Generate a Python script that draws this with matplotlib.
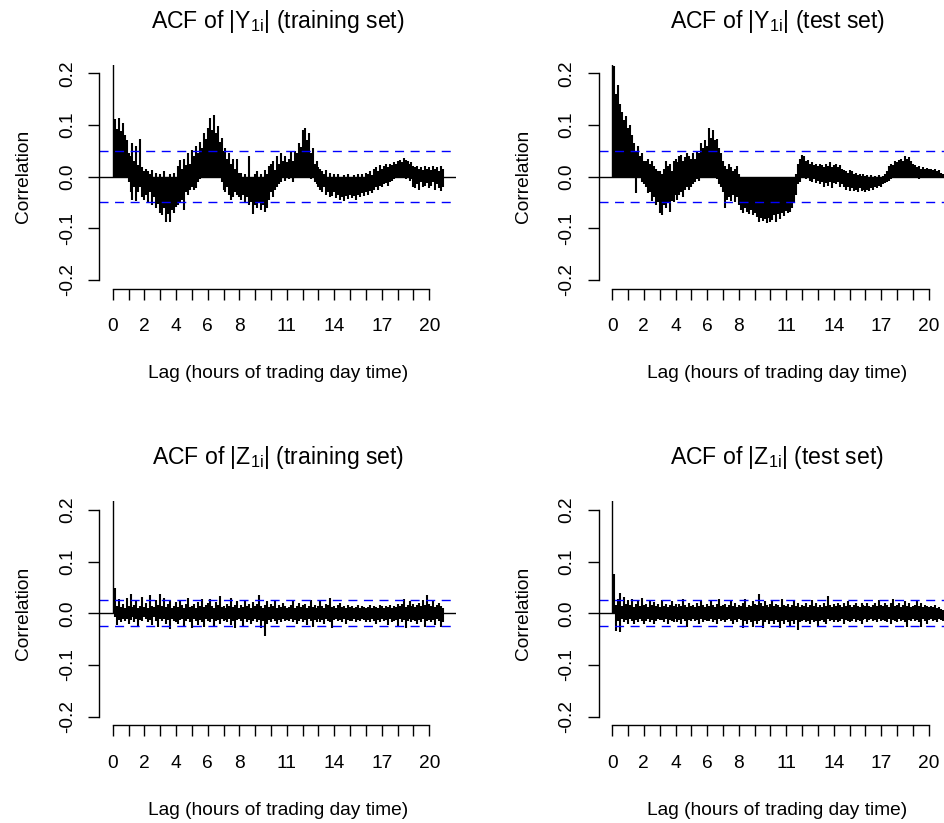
import numpy as np
import matplotlib
matplotlib.use("Agg")
import matplotlib.pyplot as plt

plt.rcParams["font.family"] = ["Liberation Sans", "DejaVu Sans"]
plt.rcParams["mathtext.fontset"] = "custom"
plt.rcParams["mathtext.rm"] = "Liberation Sans"
plt.rcParams["mathtext.it"] = "Liberation Sans:italic"
plt.rcParams["mathtext.bf"] = "Liberation Sans:bold"

# width of a lag bin in hours of trading day time; bin 0 is lag 0
LAG_STEP = 0.125

# For each lag bin: highest (hi) and lowest (lo) autocorrelation seen in it.
# One row per hour of lag.

# |Y_1i|, training set
y_train_hi = [1.0,
    0.112, 0.092, 0.113, 0.088, 0.104, 0.080, 0.070, 0.045,
    0.040, 0.065, 0.030, 0.060, 0.022, 0.072, 0.018, 0.010,
    0.015, 0.010, 0.005, 0.012, 0.000, 0.008, 0.000, 0.005,
    0.000, 0.010, 0.000, 0.000, 0.005, 0.000, 0.008, 0.000,
    0.020, 0.032, 0.015, 0.035, 0.022, 0.045, 0.025, 0.052,
    0.040, 0.060, 0.045, 0.068, 0.055, 0.085, 0.072, 0.095,
    0.113, 0.090, 0.120, 0.085, 0.098, 0.068, 0.075, 0.050,
    0.055, 0.035, 0.045, 0.025, 0.035, 0.015, 0.035, 0.008,
    0.008, 0.000, 0.005, 0.000, 0.040, 0.000, 0.000, 0.005,
    0.010, 0.000, 0.005, 0.000, 0.012, 0.005, 0.020, 0.025,
    0.030, 0.012, 0.040, 0.025, 0.045, 0.030, 0.040, 0.028,
    0.035, 0.048, 0.030, 0.050, 0.045, 0.065, 0.058, 0.090,
    0.094, 0.070, 0.085, 0.045, 0.055, 0.025, 0.030, 0.018,
    0.015, 0.010, 0.005, 0.012, 0.000, 0.008, 0.000, 0.005,
    0.000, 0.005, 0.000, 0.000, 0.003, 0.000, 0.005, 0.000,
    0.000, 0.004, 0.000, 0.005, 0.000, 0.006, 0.000, 0.008,
    0.005, 0.010, 0.003, 0.015, 0.018, 0.010, 0.022, 0.015,
    0.020, 0.025, 0.018, 0.025, 0.022, 0.028, 0.025, 0.030,
    0.032, 0.028, 0.036, 0.033, 0.030, 0.025, 0.028, 0.020,
    0.018, 0.020, 0.015, 0.018, 0.012, 0.020, 0.015, 0.018,
    0.012, 0.020, 0.015, 0.018, 0.010, 0.020, 0.015]
y_train_lo = [0.0,
    0.000, 0.000, 0.000, 0.000, 0.000, 0.000, 0.000, -0.010,
    -0.030, -0.045, -0.020, -0.048, -0.030, -0.020, -0.040, -0.045,
    -0.035, -0.050, -0.030, -0.055, -0.040, -0.060, -0.052, -0.070,
    -0.075, -0.060, -0.087, -0.072, -0.087, -0.065, -0.070, -0.058,
    -0.055, -0.050, -0.045, -0.065, -0.030, -0.035, -0.025, -0.020,
    -0.025, -0.022, -0.010, -0.005, 0.000, 0.000, 0.000, 0.000,
    0.000, 0.000, 0.000, 0.000, 0.000, 0.000, -0.010, -0.025,
    -0.030, -0.020, -0.035, -0.045, -0.040, -0.030, -0.035, -0.040,
    -0.045, -0.035, -0.050, -0.040, -0.055, -0.050, -0.072, -0.055,
    -0.060, -0.050, -0.065, -0.055, -0.068, -0.060, -0.045, -0.030,
    -0.040, -0.025, -0.020, -0.015, -0.010, 0.000, -0.008, 0.000,
    -0.005, 0.000, -0.010, 0.000, 0.000, 0.000, 0.000, 0.000,
    0.000, 0.000, 0.000, -0.005, 0.000, -0.010, -0.015, -0.020,
    -0.025, -0.030, -0.020, -0.035, -0.030, -0.040, -0.038, -0.030,
    -0.042, -0.035, -0.045, -0.040, -0.048, -0.038, -0.044, -0.036,
    -0.042, -0.038, -0.045, -0.035, -0.040, -0.032, -0.038, -0.030,
    -0.035, -0.028, -0.032, -0.025, -0.020, -0.025, -0.018, -0.020,
    -0.015, -0.012, -0.018, -0.010, -0.008, -0.005, 0.000, 0.000,
    0.000, 0.000, 0.000, -0.005, 0.000, -0.008, -0.005, -0.020,
    -0.022, -0.015, -0.025, -0.010, -0.020, -0.018, -0.012, -0.022,
    -0.018, -0.010, -0.025, -0.015, -0.022, -0.028, -0.020]

# |Y_1i|, test set
y_test_hi = [1.0,
    0.215, 0.160, 0.178, 0.140, 0.125, 0.110, 0.118, 0.095,
    0.100, 0.080, 0.065, 0.050, 0.060, 0.040, 0.045, 0.030,
    0.030, 0.035, 0.025, 0.030, 0.020, 0.015, 0.010, 0.010,
    0.005, 0.015, 0.030, 0.020, 0.025, 0.010, 0.030, 0.035,
    0.028, 0.040, 0.042, 0.030, 0.038, 0.045, 0.040, 0.035,
    0.045, 0.035, 0.050, 0.045, 0.065, 0.055, 0.070, 0.060,
    0.094, 0.075, 0.090, 0.070, 0.072, 0.055, 0.045, 0.030,
    0.020, 0.015, 0.025, 0.018, 0.010, 0.015, 0.020, 0.005,
    0.000, 0.000, 0.000, 0.000, 0.000, 0.000, 0.000, 0.000,
    0.000, 0.000, 0.000, 0.000, 0.000, 0.000, 0.000, 0.000,
    0.000, 0.000, 0.000, 0.000, 0.000, 0.000, 0.000, 0.000,
    0.000, 0.000, 0.000, 0.000, 0.005, 0.025, 0.035, 0.042,
    0.040, 0.030, 0.032, 0.025, 0.028, 0.022, 0.025, 0.020,
    0.025, 0.022, 0.018, 0.025, 0.020, 0.028, 0.018, 0.022,
    0.025, 0.018, 0.022, 0.015, 0.012, 0.010, 0.008, 0.012,
    0.010, 0.005, 0.008, 0.003, 0.006, 0.002, 0.005, 0.002,
    0.004, 0.000, 0.003, 0.000, 0.002, 0.000, 0.003, 0.000,
    0.002, 0.005, 0.010, 0.020, 0.025, 0.022, 0.030, 0.028,
    0.032, 0.035, 0.030, 0.040, 0.035, 0.038, 0.030, 0.025,
    0.022, 0.018, 0.020, 0.015, 0.018, 0.015, 0.017, 0.014,
    0.015, 0.012, 0.014, 0.010, 0.012, 0.008, 0.005]
y_test_lo = [0.0,
    0.000, 0.000, 0.000, 0.000, 0.000, 0.000, 0.000, 0.000,
    0.000, 0.000, 0.000, -0.032, 0.000, 0.000, -0.010, -0.015,
    -0.020, -0.032, -0.030, -0.048, -0.040, -0.055, -0.050, -0.070,
    -0.074, -0.055, -0.060, -0.050, -0.068, -0.048, -0.050, -0.035,
    -0.045, -0.035, -0.030, -0.040, -0.025, -0.020, -0.025, -0.020,
    -0.015, -0.010, -0.005, -0.008, 0.000, 0.000, 0.000, 0.000,
    0.000, 0.000, 0.000, 0.000, -0.005, -0.015, -0.020, -0.030,
    -0.060, -0.045, -0.040, -0.048, -0.035, -0.050, -0.040, -0.055,
    -0.065, -0.070, -0.060, -0.068, -0.072, -0.065, -0.075, -0.070,
    -0.078, -0.088, -0.080, -0.086, -0.082, -0.090, -0.080, -0.087,
    -0.083, -0.075, -0.088, -0.072, -0.082, -0.070, -0.076, -0.066,
    -0.070, -0.068, -0.060, -0.050, -0.035, -0.015, -0.010, 0.000,
    0.000, -0.005, 0.000, -0.008, -0.010, -0.005, -0.012, -0.008,
    -0.015, -0.010, -0.020, -0.012, -0.018, -0.010, -0.022, -0.012,
    -0.015, -0.010, -0.020, -0.015, -0.020, -0.025, -0.020, -0.028,
    -0.022, -0.028, -0.025, -0.030, -0.022, -0.028, -0.025, -0.030,
    -0.026, -0.028, -0.022, -0.025, -0.020, -0.022, -0.018, -0.020,
    -0.015, -0.012, -0.010, -0.008, -0.005, 0.000, 0.000, 0.000,
    0.000, 0.000, 0.000, 0.000, 0.000, 0.000, 0.000, 0.000,
    -0.003, 0.000, -0.005, 0.000, -0.003, 0.000, 0.000, 0.000,
    0.000, 0.000, 0.000, 0.000, 0.000, 0.000, 0.000]

# |Z_1i|, training set
z_train_hi = [1.0,
    0.050, 0.015, 0.028, 0.012, 0.018, 0.010, 0.030, 0.014,
    0.038, 0.012, 0.016, 0.026, 0.010, 0.015, 0.032, 0.012,
    0.020, 0.010, 0.036, 0.014, 0.012, 0.025, 0.016, 0.038,
    0.014, 0.030, 0.012, 0.018, 0.026, 0.010, 0.015, 0.022,
    0.012, 0.025, 0.016, 0.010, 0.018, 0.030, 0.012, 0.014,
    0.018, 0.010, 0.022, 0.014, 0.028, 0.012, 0.016, 0.020,
    0.028, 0.014, 0.010, 0.022, 0.016, 0.033, 0.012, 0.014,
    0.010, 0.018, 0.014, 0.030, 0.012, 0.016, 0.024, 0.010,
    0.016, 0.012, 0.026, 0.014, 0.018, 0.010, 0.022, 0.014,
    0.018, 0.036, 0.014, 0.010, 0.016, 0.024, 0.012, 0.018,
    0.014, 0.026, 0.010, 0.016, 0.012, 0.020, 0.014, 0.010,
    0.012, 0.016, 0.024, 0.010, 0.014, 0.020, 0.012, 0.016,
    0.018, 0.010, 0.014, 0.026, 0.012, 0.016, 0.010, 0.014,
    0.024, 0.014, 0.010, 0.018, 0.016, 0.030, 0.012, 0.014,
    0.010, 0.016, 0.020, 0.012, 0.014, 0.010, 0.016, 0.012,
    0.014, 0.010, 0.012, 0.016, 0.010, 0.014, 0.012, 0.010,
    0.012, 0.016, 0.010, 0.014, 0.012, 0.010, 0.016, 0.014,
    0.010, 0.014, 0.012, 0.016, 0.010, 0.014, 0.012, 0.018,
    0.014, 0.018, 0.028, 0.012, 0.016, 0.024, 0.014, 0.018,
    0.012, 0.016, 0.020, 0.014, 0.026, 0.016, 0.035, 0.018,
    0.014, 0.024, 0.012, 0.016, 0.020, 0.014, 0.010]
z_train_lo = [0.0,
    -0.008, -0.022, -0.012, -0.016, -0.010, -0.014, -0.010, -0.020,
    -0.012, -0.008, -0.016, -0.010, -0.026, -0.012, -0.014, -0.008,
    -0.010, -0.016, -0.012, -0.022, -0.008, -0.014, -0.026, -0.010,
    -0.014, -0.010, -0.020, -0.012, -0.030, -0.010, -0.014, -0.016,
    -0.020, -0.012, -0.010, -0.026, -0.014, -0.010, -0.016, -0.028,
    -0.010, -0.014, -0.022, -0.012, -0.016, -0.026, -0.010, -0.014,
    -0.016, -0.010, -0.026, -0.014, -0.012, -0.020, -0.010, -0.014,
    -0.012, -0.016, -0.010, -0.022, -0.014, -0.028, -0.012, -0.010,
    -0.014, -0.026, -0.010, -0.016, -0.012, -0.020, -0.014, -0.010,
    -0.016, -0.012, -0.028, -0.014, -0.043, -0.020, -0.012, -0.016,
    -0.010, -0.014, -0.020, -0.012, -0.016, -0.010, -0.014, -0.012,
    -0.014, -0.010, -0.016, -0.012, -0.020, -0.014, -0.010, -0.016,
    -0.012, -0.022, -0.010, -0.014, -0.026, -0.012, -0.016, -0.010,
    -0.016, -0.012, -0.020, -0.010, -0.014, -0.016, -0.028, -0.012,
    -0.010, -0.014, -0.012, -0.016, -0.010, -0.020, -0.012, -0.014,
    -0.014, -0.010, -0.016, -0.012, -0.014, -0.010, -0.012, -0.016,
    -0.012, -0.016, -0.010, -0.014, -0.020, -0.012, -0.016, -0.010,
    -0.014, -0.012, -0.022, -0.010, -0.016, -0.014, -0.012, -0.026,
    -0.010, -0.016, -0.012, -0.028, -0.014, -0.010, -0.016, -0.012,
    -0.014, -0.020, -0.012, -0.016, -0.010, -0.026, -0.014, -0.012,
    -0.016, -0.012, -0.022, -0.010, -0.014, -0.026, -0.016]

# |Z_1i|, test set
z_test_hi = [1.0,
    0.077, 0.016, 0.028, 0.040, 0.014, 0.032, 0.018, 0.026,
    0.016, 0.028, 0.012, 0.018, 0.024, 0.014, 0.030, 0.016,
    0.018, 0.012, 0.026, 0.016, 0.022, 0.014, 0.018, 0.012,
    0.026, 0.014, 0.018, 0.012, 0.016, 0.024, 0.014, 0.018,
    0.012, 0.018, 0.014, 0.028, 0.016, 0.012, 0.020, 0.014,
    0.016, 0.012, 0.020, 0.014, 0.026, 0.016, 0.012, 0.018,
    0.014, 0.024, 0.016, 0.012, 0.018, 0.028, 0.014, 0.016,
    0.018, 0.012, 0.016, 0.024, 0.014, 0.020, 0.012, 0.016,
    0.014, 0.020, 0.028, 0.012, 0.016, 0.014, 0.024, 0.018,
    0.016, 0.038, 0.020, 0.014, 0.024, 0.016, 0.012, 0.018,
    0.024, 0.014, 0.018, 0.016, 0.012, 0.028, 0.016, 0.014,
    0.018, 0.012, 0.016, 0.024, 0.014, 0.020, 0.012, 0.016,
    0.014, 0.020, 0.012, 0.016, 0.026, 0.014, 0.020, 0.012,
    0.016, 0.012, 0.020, 0.014, 0.034, 0.016, 0.012, 0.018,
    0.014, 0.020, 0.016, 0.012, 0.020, 0.014, 0.024, 0.016,
    0.012, 0.016, 0.020, 0.014, 0.012, 0.020, 0.016, 0.014,
    0.020, 0.014, 0.012, 0.016, 0.020, 0.014, 0.026, 0.016,
    0.014, 0.020, 0.016, 0.012, 0.020, 0.028, 0.014, 0.016,
    0.020, 0.012, 0.016, 0.024, 0.014, 0.020, 0.012, 0.014,
    0.016, 0.026, 0.014, 0.020, 0.012, 0.016, 0.014, 0.012,
    0.014, 0.012, 0.016, 0.010, 0.012, 0.008, 0.006]
z_test_lo = [0.0,
    0.000, -0.035, -0.014, -0.036, -0.010, -0.016, -0.012, -0.020,
    -0.010, -0.014, -0.020, -0.012, -0.016, -0.010, -0.014, -0.020,
    -0.014, -0.010, -0.016, -0.012, -0.020, -0.014, -0.010, -0.012,
    -0.012, -0.016, -0.010, -0.020, -0.012, -0.014, -0.016, -0.010,
    -0.016, -0.012, -0.020, -0.010, -0.014, -0.026, -0.012, -0.014,
    -0.010, -0.014, -0.012, -0.020, -0.010, -0.016, -0.012, -0.014,
    -0.014, -0.010, -0.016, -0.012, -0.020, -0.010, -0.014, -0.012,
    -0.016, -0.012, -0.010, -0.014, -0.020, -0.012, -0.016, -0.010,
    -0.012, -0.028, -0.014, -0.020, -0.012, -0.016, -0.026, -0.014,
    -0.020, -0.014, -0.012, -0.028, -0.016, -0.012, -0.020, -0.014,
    -0.014, -0.020, -0.012, -0.016, -0.028, -0.014, -0.020, -0.012,
    -0.016, -0.026, -0.014, -0.020, -0.012, -0.032, -0.016, -0.014,
    -0.012, -0.016, -0.014, -0.020, -0.012, -0.016, -0.014, -0.026,
    -0.014, -0.012, -0.016, -0.020, -0.010, -0.014, -0.012, -0.016,
    -0.012, -0.016, -0.014, -0.010, -0.020, -0.012, -0.014, -0.016,
    -0.014, -0.010, -0.016, -0.012, -0.014, -0.020, -0.012, -0.010,
    -0.016, -0.012, -0.010, -0.014, -0.012, -0.016, -0.010, -0.014,
    -0.012, -0.014, -0.016, -0.010, -0.020, -0.012, -0.014, -0.016,
    -0.010, -0.014, -0.012, -0.016, -0.026, -0.012, -0.014, -0.010,
    -0.014, -0.012, -0.016, -0.026, -0.010, -0.014, -0.020, -0.012,
    -0.010, -0.014, -0.012, -0.016, -0.010, -0.012, -0.014]

# approximate 95% bounds (blue dashed lines)
ci_y = 0.050
ci_z = 0.025

titles = [
    r"ACF of $|\mathrm{Y}_{\mathrm{1i}}|$ (training set)",
    r"ACF of $|\mathrm{Y}_{\mathrm{1i}}|$ (test set)",
    r"ACF of $|\mathrm{Z}_{\mathrm{1i}}|$ (training set)",
    r"ACF of $|\mathrm{Z}_{\mathrm{1i}}|$ (test set)",
]
xtick_pos = list(range(21))
xtick_shown = [0, 2, 4, 6, 8, 11, 14, 17, 20]
ytick_pos = [-0.2, -0.1, 0.0, 0.1, 0.2]
xlabel = "Lag (hours of trading day time)"
ylabel = "Correlation"

# layout in pixels
W, H = 945, 823
PW, PH = 356.9, 223.9
FS = 13.8

fig = plt.figure(figsize=(W / 100, H / 100), dpi=100)


def add_panel(left, top, hi, lo, ci, title):
    ax = fig.add_axes([left / W, 1 - (top + PH) / H, PW / W, PH / H])
    lags = np.arange(len(hi)) * LAG_STEP
    hi = np.asarray(hi)
    lo = np.asarray(lo)
    # lag 0 as a thin line, the rest as touching bars
    ax.vlines(lags[:1], lo[:1], hi[:1], color="black", lw=1.0)
    ax.vlines(lags[1:], lo[1:], hi[1:], color="black", lw=1.5)
    ax.axhline(0, color="black", lw=1.0)
    for c in (ci, -ci):
        ax.axhline(c, color="blue", lw=1.0, dashes=(6.5, 4.7))
    ax.set_xlim(-0.846, 21.70)
    ax.set_ylim(-0.2167, 0.2167)

    for s in ("top", "right"):
        ax.spines[s].set_visible(False)
    ax.spines["left"].set_bounds(-0.2, 0.2)
    ax.spines["bottom"].set_bounds(0, 20)
    ax.spines["left"].set_linewidth(1.0)
    ax.spines["bottom"].set_linewidth(1.0)

    ax.set_xticks(xtick_pos)
    ax.set_xticklabels([str(t) if t in xtick_shown else "" for t in xtick_pos])
    ax.set_yticks(ytick_pos)
    ax.set_yticklabels(["%.1f" % v for v in ytick_pos])
    ax.tick_params(length=7.9, width=1.0, labelsize=FS)
    ax.tick_params(axis="x", pad=13.5)
    ax.tick_params(axis="y", pad=8.9)
    plt.setp(ax.get_yticklabels(), rotation=90, va="center")

    cx = (left + PW / 2) / W
    fig.text(cx, 1 - (top - 37) / H, title, ha="center", va="baseline",
             fontsize=FS * 1.2)
    fig.text(cx, 1 - (top + 313.6) / H, xlabel, ha="center", va="baseline",
             fontsize=FS)
    fig.text((left - 71) / W, 1 - (top + PH / 2) / H, ylabel, rotation=90,
             rotation_mode="anchor", ha="center", va="baseline", fontsize=FS)
    return ax


add_panel(99.3, 64.7, y_train_hi, y_train_lo, ci_y, titles[0])
add_panel(598.8, 64.7, y_test_hi, y_test_lo, ci_y, titles[1])
add_panel(99.3, 501.4, z_train_hi, z_train_lo, ci_z, titles[2])
add_panel(598.8, 501.4, z_test_hi, z_test_lo, ci_z, titles[3])

fig.savefig("out.png", dpi=100)
